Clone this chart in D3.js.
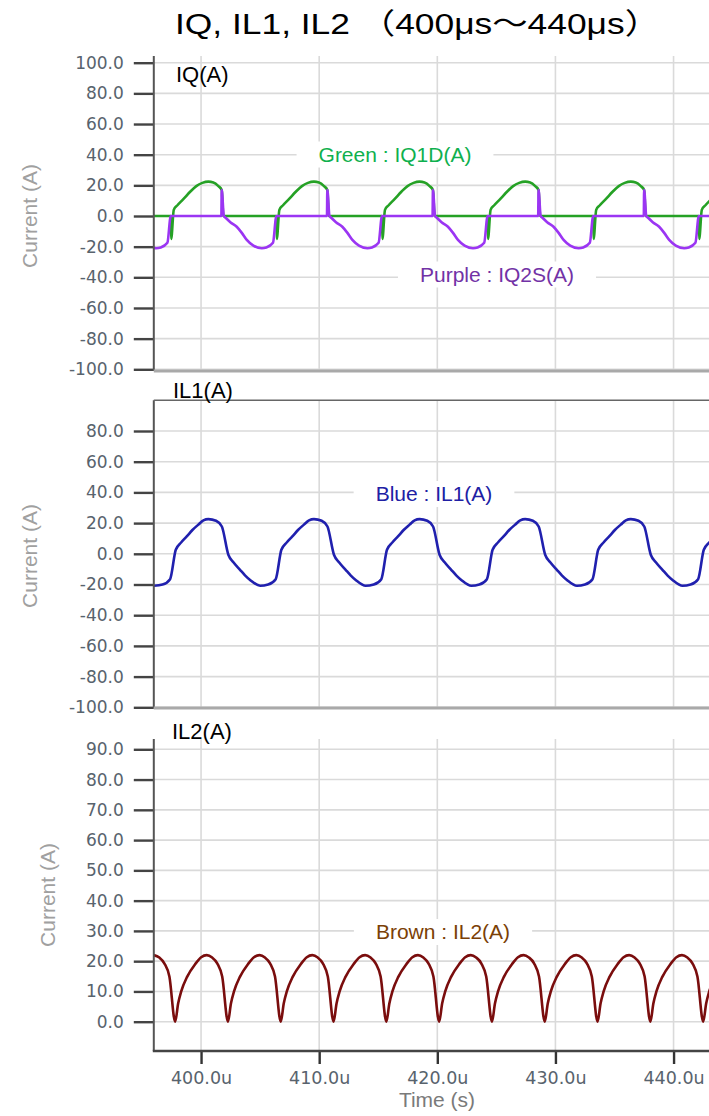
<!DOCTYPE html>
<html>
<head>
<meta charset="utf-8">
<script src="https://cdn.jsdelivr.net/npm/d3@7"></script>
<style>
  body { margin: 0; background: #fff; }
</style>
</head>
<body>
<svg id="chart"></svg>
<script>
// time ticks (us)
const xTicks = [400, 410, 420, 430, 440];
const yTicksIQ = [-100, -80, -60, -40, -20, 0, 20, 40, 60, 80, 100];
const yTicksIL1 = [-100, -80, -60, -40, -20, 0, 20, 40, 60, 80];
const yTicksIL2 = [0, 10, 20, 30, 40, 50, 60, 70, 80, 90];

// IQ1D (green) [t(us), A]
const iq1d = [
  [396.0, 0],
  [397.44, 0], [397.47, -15], [397.69, 4], [398.00, 7], [398.50, 11], [399.10, 16], [399.60, 19.5], [400.11, 21.6], [400.62, 22.4], [401.04, 21.9], [401.47, 19.5], [401.75, 17], [401.89, 0],
  [406.38, 0], [406.41, -15], [406.63, 4], [406.94, 7], [407.44, 11], [408.04, 16], [408.54, 19.5], [409.05, 21.6], [409.56, 22.4], [409.98, 21.9], [410.41, 19.5], [410.69, 17], [410.83, 0],
  [415.32, 0], [415.35, -15], [415.57, 4], [415.88, 7], [416.38, 11], [416.98, 16], [417.48, 19.5], [417.99, 21.6], [418.50, 22.4], [418.92, 21.9], [419.35, 19.5], [419.63, 17], [419.77, 0],
  [424.26, 0], [424.29, -15], [424.51, 4], [424.82, 7], [425.32, 11], [425.92, 16], [426.42, 19.5], [426.93, 21.6], [427.44, 22.4], [427.86, 21.9], [428.29, 19.5], [428.57, 17], [428.71, 0],
  [433.20, 0], [433.23, -15], [433.45, 4], [433.76, 7], [434.26, 11], [434.86, 16], [435.36, 19.5], [435.87, 21.6], [436.38, 22.4], [436.80, 21.9], [437.23, 19.5], [437.51, 17], [437.65, 0],
  [442.14, 0], [442.17, -15], [442.39, 4], [442.70, 7], [443.20, 11], [443.80, 16]
];

// IQ2S (purple)
const iq2s = [
  [396.0, -20.8], [396.20, -21], [396.59, -20.5], [397.15, -17.5], [397.44, 0],
  [401.72, 0], [401.75, 17], [401.93, 0], [402.06, -1], [402.48, -4], [403.02, -7], [403.45, -11], [403.87, -15.6], [404.43, -19.3], [405.14, -21], [405.53, -20.5], [406.09, -17.5], [406.38, 0],
  [410.66, 0], [410.69, 17], [410.87, 0], [411.00, -1], [411.42, -4], [411.96, -7], [412.39, -11], [412.81, -15.6], [413.37, -19.3], [414.08, -21], [414.47, -20.5], [415.03, -17.5], [415.32, 0],
  [419.60, 0], [419.63, 17], [419.81, 0], [419.94, -1], [420.36, -4], [420.90, -7], [421.33, -11], [421.75, -15.6], [422.31, -19.3], [423.02, -21], [423.41, -20.5], [423.97, -17.5], [424.26, 0],
  [428.54, 0], [428.57, 17], [428.75, 0], [428.88, -1], [429.30, -4], [429.84, -7], [430.27, -11], [430.69, -15.6], [431.25, -19.3], [431.96, -21], [432.35, -20.5], [432.91, -17.5], [433.20, 0],
  [437.48, 0], [437.51, 17], [437.69, 0], [437.82, -1], [438.24, -4], [438.78, -7], [439.21, -11], [439.63, -15.6], [440.19, -19.3], [440.90, -21], [441.29, -20.5], [441.85, -17.5], [442.14, 0],
  [443.50, 0]
];

// IL1 (blue)
const il1 = [
  [396.0, -20.8], [396.74, -20], [397.38, -16.5],
  [397.86, 2.6], [398.33, 7.5], [398.79, 11.3], [399.27, 15.5], [399.77, 19], [400.20, 21.8], [400.62, 22.6], [401.27, 21.5], [401.76, 17.8], [402.31, -0.6], [402.74, -5.5], [403.30, -10.4], [403.72, -14], [404.15, -17], [405.00, -20.8], [405.68, -20], [406.32, -16.5],
  [406.80, 2.6], [407.27, 7.5], [407.73, 11.3], [408.21, 15.5], [408.71, 19], [409.14, 21.8], [409.56, 22.6], [410.21, 21.5], [410.70, 17.8], [411.25, -0.6], [411.68, -5.5], [412.24, -10.4], [412.66, -14], [413.09, -17], [413.94, -20.8], [414.62, -20], [415.26, -16.5],
  [415.74, 2.6], [416.21, 7.5], [416.67, 11.3], [417.15, 15.5], [417.65, 19], [418.08, 21.8], [418.50, 22.6], [419.15, 21.5], [419.64, 17.8], [420.19, -0.6], [420.62, -5.5], [421.18, -10.4], [421.60, -14], [422.03, -17], [422.88, -20.8], [423.56, -20], [424.20, -16.5],
  [424.68, 2.6], [425.15, 7.5], [425.61, 11.3], [426.09, 15.5], [426.59, 19], [427.02, 21.8], [427.44, 22.6], [428.09, 21.5], [428.58, 17.8], [429.13, -0.6], [429.56, -5.5], [430.12, -10.4], [430.54, -14], [430.97, -17], [431.82, -20.8], [432.50, -20], [433.14, -16.5],
  [433.62, 2.6], [434.09, 7.5], [434.55, 11.3], [435.03, 15.5], [435.53, 19], [435.96, 21.8], [436.38, 22.6], [437.03, 21.5], [437.52, 17.8], [438.07, -0.6], [438.50, -5.5], [439.06, -10.4], [439.48, -14], [439.91, -17], [440.76, -20.8], [441.44, -20], [442.08, -16.5],
  [442.56, 2.6], [443.03, 7.5], [443.49, 11.3]
];

// IL2 (brown)
const il2 = [
  [396.0, 22], [396.47, 21.2], [396.89, 19.3], [397.32, 14.9],
  [397.81, 0], [398.06, 6], [398.32, 10], [398.83, 14.9], [399.50, 19], [400.01, 21.3], [400.48, 22], [400.94, 21.2], [401.37, 19.3], [401.79, 14.9],
  [402.28, 0], [402.53, 6], [402.79, 10], [403.30, 14.9], [403.97, 19], [404.48, 21.3], [404.95, 22], [405.41, 21.2], [405.84, 19.3], [406.26, 14.9],
  [406.75, 0], [407.00, 6], [407.26, 10], [407.77, 14.9], [408.44, 19], [408.95, 21.3], [409.42, 22], [409.88, 21.2], [410.31, 19.3], [410.73, 14.9],
  [411.22, 0], [411.47, 6], [411.73, 10], [412.24, 14.9], [412.91, 19], [413.42, 21.3], [413.89, 22], [414.35, 21.2], [414.78, 19.3], [415.20, 14.9],
  [415.69, 0], [415.94, 6], [416.20, 10], [416.71, 14.9], [417.38, 19], [417.89, 21.3], [418.36, 22], [418.82, 21.2], [419.25, 19.3], [419.67, 14.9],
  [420.16, 0], [420.41, 6], [420.67, 10], [421.18, 14.9], [421.85, 19], [422.36, 21.3], [422.83, 22], [423.29, 21.2], [423.72, 19.3], [424.14, 14.9],
  [424.63, 0], [424.88, 6], [425.14, 10], [425.65, 14.9], [426.32, 19], [426.83, 21.3], [427.30, 22], [427.76, 21.2], [428.19, 19.3], [428.61, 14.9],
  [429.10, 0], [429.35, 6], [429.61, 10], [430.12, 14.9], [430.79, 19], [431.30, 21.3], [431.77, 22], [432.23, 21.2], [432.66, 19.3], [433.08, 14.9],
  [433.57, 0], [433.82, 6], [434.08, 10], [434.59, 14.9], [435.26, 19], [435.77, 21.3], [436.24, 22], [436.70, 21.2], [437.13, 19.3], [437.55, 14.9],
  [438.04, 0], [438.29, 6], [438.55, 10], [439.06, 14.9], [439.73, 19], [440.24, 21.3], [440.71, 22], [441.17, 21.2], [441.60, 19.3], [442.02, 14.9],
  [442.51, 0], [442.76, 6], [443.02, 10], [443.53, 14.9]
];

const W = 709, H = 1116;
const LEFT = 153.8;
const FONT_TICK = "DejaVu Sans, Verdana, sans-serif";
const FONT_TEXT = "Liberation Sans, Arial, sans-serif";
const GRID = "#dadada";

const svg = d3.select("#chart").attr("width", W).attr("height", H);
svg.append("rect").attr("width", W).attr("height", H).attr("fill", "#fff");

const x = d3.scaleLinear([396, 443], [LEFT, W]);

// title (glyphs are drawn wide in the original)
svg.append("text")
  .attr("x", 417.5)
  .attr("y", 34)
  .attr("text-anchor", "middle")
  .attr("font-family", "Liberation Sans, Arial, Noto Sans CJK JP, sans-serif")
  .attr("font-size", 29)
  .attr("fill", "#000")
  .attr("textLength", 485)
  .attr("lengthAdjust", "spacingAndGlyphs")
  .text("IQ, IL1, IL2 （400μs～440μs）");

const panels = [
  {
    id: "iq", title: "IQ(A)", titleX: 176, titleY: 82, ticks: yTicksIQ,
    y: d3.scaleLinear([-100, 100], [369.3, 62.7]), top: 56, bottom: 371,
    labelX: 30, labelY: 216, topBorder: false,
    series: [{ data: iq1d, color: "#25a125" }, { data: iq2s, color: "#9b35f3" }],
    legends: [
      { text: "Green : IQ1D(A)", color: "#0fb04e", cx: 395, by: 161.5 },
      { text: "Purple : IQ2S(A)", color: "#7232a6", cx: 497, by: 281.5 },
    ],
  },
  {
    id: "il1", title: "IL1(A)", titleX: 173, titleY: 398, ticks: yTicksIL1,
    y: d3.scaleLinear([-100, 100], [707.3, 400.3]), top: 400.3, bottom: 708,
    labelX: 30, labelY: 556, topBorder: true,
    series: [{ data: il1, color: "#2020ae" }],
    legends: [{ text: "Blue : IL1(A)", color: "#2020a4", cx: 434, by: 501 }],
  },
  {
    id: "il2", title: "IL2(A)", titleX: 172, titleY: 739, ticks: yTicksIL2,
    y: d3.scaleLinear([0, 90], [1021.7, 749.3]), top: 739, bottom: 1051,
    labelX: 48, labelY: 895, topBorder: false,
    series: [{ data: il2, color: "#7a0d0d" }],
    legends: [{ text: "Brown : IL2(A)", color: "#7b3f06", cx: 443, by: 939 }],
  },
];

panels.forEach((p) => {
  const g = svg.append("g").attr("class", "panel-" + p.id);

  g.append("clipPath")
    .attr("id", "clip-" + p.id)
    .append("rect")
    .attr("x", LEFT)
    .attr("y", p.top)
    .attr("width", W - LEFT)
    .attr("height", p.bottom - p.top);

  // grid
  g.append("g")
    .selectAll("line")
    .data(p.ticks)
    .join("line")
    .attr("x1", LEFT)
    .attr("x2", W)
    .attr("y1", (d) => p.y(d))
    .attr("y2", (d) => p.y(d))
    .attr("stroke", GRID)
    .attr("stroke-width", 1.6);
  g.append("g")
    .selectAll("line")
    .data(xTicks)
    .join("line")
    .attr("x1", (d) => x(d))
    .attr("x2", (d) => x(d))
    .attr("y1", p.top)
    .attr("y2", p.bottom)
    .attr("stroke", GRID)
    .attr("stroke-width", 1.6);

  // legends with white backing
  p.legends.forEach((l) => {
    const lg = g.append("g");
    const t = lg.append("text")
      .attr("x", l.cx)
      .attr("y", l.by)
      .attr("text-anchor", "middle")
      .attr("font-family", FONT_TEXT)
      .attr("font-size", 21)
      .attr("fill", l.color)
      .text(l.text);
    const w = t.node().getComputedTextLength();
    lg.insert("rect", () => t.node())
      .attr("x", l.cx - w / 2 - 22)
      .attr("y", l.by - 20)
      .attr("width", w + 44)
      .attr("height", 26)
      .attr("fill", "#fff");
  });

  // traces
  const line = d3.line()
    .x((d) => x(d[0]))
    .y((d) => p.y(d[1]))
    .curve(d3.curveMonotoneX);
  g.append("g")
    .attr("clip-path", `url(#clip-${p.id})`)
    .selectAll("path")
    .data(p.series)
    .join("path")
    .attr("d", (s) => line(s.data))
    .attr("fill", "none")
    .attr("stroke", (s) => s.color)
    .attr("stroke-width", 2.6)
    .attr("stroke-linejoin", "round");

  // y axis
  g.append("g")
    .attr("transform", `translate(${LEFT},0)`)
    .call(d3.axisLeft(p.y).tickValues(p.ticks).tickSize(20).tickPadding(10).tickFormat((d) => d.toFixed(1)))
    .call((a) => {
      a.select(".domain").remove();
      a.selectAll(".tick line").attr("stroke", "#444").attr("stroke-width", 2.4);
      a.selectAll(".tick text")
        .attr("font-family", FONT_TICK)
        .attr("font-size", 17)
        .attr("fill", "#58636d");
    });
  g.append("line")
    .attr("x1", LEFT).attr("x2", LEFT)
    .attr("y1", p.top).attr("y2", p.bottom)
    .attr("stroke", "#555")
    .attr("stroke-width", 2);

  if (p.topBorder) {
    g.append("line")
      .attr("x1", LEFT).attr("x2", W)
      .attr("y1", p.top).attr("y2", p.top)
      .attr("stroke", "#666")
      .attr("stroke-width", 1.6);
  }
  if (p.id !== "il2") {
    g.append("line")
      .attr("x1", LEFT).attr("x2", W)
      .attr("y1", p.bottom).attr("y2", p.bottom)
      .attr("stroke", "#a9a9a9")
      .attr("stroke-width", 3);
  }

  // panel title
  g.append("text")
    .attr("x", p.titleX)
    .attr("y", p.titleY)
    .attr("font-family", FONT_TEXT)
    .attr("font-size", 22)
    .attr("fill", "#000")
    .text(p.title);

  // y label
  g.append("text")
    .attr("transform", `translate(${p.labelX},${p.labelY}) rotate(-90)`)
    .attr("text-anchor", "middle")
    .attr("dy", "0.35em")
    .attr("font-family", FONT_TEXT)
    .attr("font-size", 21)
    .attr("fill", "#a0a0a0")
    .text("Current (A)");
});

// time axis
svg.append("g")
  .attr("transform", "translate(0,1051)")
  .call(d3.axisBottom(x).tickValues(xTicks).tickSize(13).tickPadding(8).tickFormat((d) => d.toFixed(1) + "u"))
  .call((a) => {
    a.select(".domain").remove();
    a.selectAll(".tick line").attr("stroke", "#333").attr("stroke-width", 2.4);
    a.selectAll(".tick text")
      .attr("font-family", FONT_TICK)
      .attr("font-size", 17.5)
      .attr("fill", "#58636d");
  });
svg.append("line")
  .attr("x1", LEFT - 1).attr("x2", W)
  .attr("y1", 1051).attr("y2", 1051)
  .attr("stroke", "#444")
  .attr("stroke-width", 2.4);

svg.append("text")
  .attr("x", 437)
  .attr("y", 1107)
  .attr("text-anchor", "middle")
  .attr("font-family", FONT_TEXT)
  .attr("font-size", 21)
  .attr("fill", "#7a7a7a")
  .text("Time (s)");
</script>
</body>
</html>
